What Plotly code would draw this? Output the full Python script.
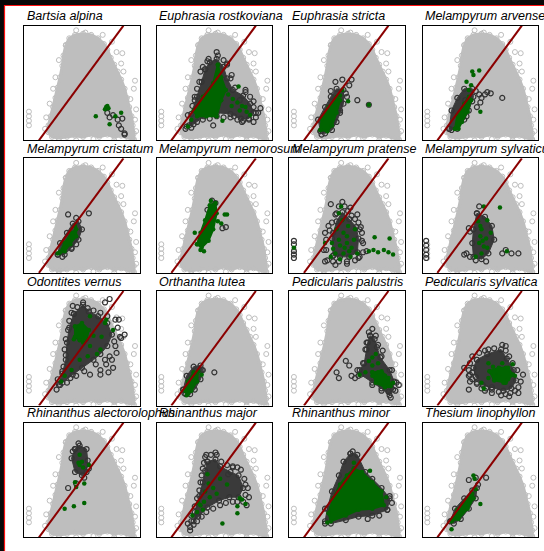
import plotly.graph_objects as go

W, H = 544, 551

SPECIES = [
    "Bartsia alpina", "Euphrasia rostkoviana", "Euphrasia stricta", "Melampyrum arvense",
    "Melampyrum cristatum", "Melampyrum nemorosum", "Melampyrum pratense", "Melampyrum sylvaticum",
    "Odontites vernus", "Orthantha lutea", "Pedicularis palustris", "Pedicularis sylvatica",
    "Rhinanthus alectorolophus", "Rhinanthus major", "Rhinanthus minor", "Thesium linophyllon",
]

# shared background: all plots (dense core outline + scattered edge points)
ALL_CORE = [
    (0.36, 0.83), (0.39, 0.89), (0.44, 0.92), (0.51, 0.93), (0.58, 0.92), (0.64, 0.89), (0.69, 0.84),
    (0.72, 0.79), (0.75, 0.72), (0.78, 0.66), (0.81, 0.60), (0.84, 0.53), (0.87, 0.45), (0.89, 0.37),
    (0.91, 0.29), (0.93, 0.21), (0.94, 0.13), (0.95, 0.06), (0.95, 0.01), (0.90, 0.02), (0.84, 0.04),
    (0.78, 0.03), (0.72, 0.05), (0.65, 0.03), (0.58, 0.05), (0.51, 0.03), (0.44, 0.04), (0.37, 0.03),
    (0.30, 0.02), (0.24, 0.03), (0.21, 0.07), (0.21, 0.13), (0.23, 0.21), (0.25, 0.29), (0.27, 0.37),
    (0.29, 0.46), (0.31, 0.55), (0.33, 0.65), (0.34, 0.74),
]
ALL_EDGE = [
    (0.45, 0.96), (0.53, 0.94), (0.68, 0.92), (0.76, 0.86), (0.80, 0.77), (0.85, 0.76), (0.84, 0.67),
    (0.86, 0.60), (0.96, 0.52), (0.95, 0.45), (0.92, 0.36), (0.97, 0.27), (0.96, 0.18), (0.97, 0.08),
    (0.04, 0.13), (0.04, 0.17), (0.04, 0.21), (0.04, 0.25), (0.30, 0.70), (0.27, 0.55), (0.25, 0.45),
    (0.22, 0.32), (0.19, 0.20), (0.18, 0.10), (0.30, 0.01), (0.45, 0.00), (0.60, 0.01), (0.78, 0.00),
    (0.95, 0.00),
]

# reference 1:1 line
REF_X = [0.127, 0.860]
REF_Y = [0.0, 1.0]

# occupied space (dark open circles): dense core outline and scattered points
DARK_CORE = {
    "Euphrasia rostkoviana": [(0.42, 0.62), (0.46, 0.68), (0.52, 0.71), (0.58, 0.64), (0.61, 0.54), (0.66, 0.44), (0.75, 0.39), (0.81, 0.32), (0.84, 0.24), (0.80, 0.19), (0.73, 0.19), (0.64, 0.23), (0.52, 0.24), (0.41, 0.21), (0.32, 0.14), (0.28, 0.13), (0.30, 0.23), (0.35, 0.38), (0.39, 0.51)],
    "Euphrasia stricta": [(0.27, 0.08), (0.25, 0.18), (0.31, 0.29), (0.36, 0.38), (0.41, 0.45), (0.47, 0.44), (0.47, 0.32), (0.44, 0.24), (0.41, 0.16), (0.37, 0.09), (0.31, 0.06)],
    "Melampyrum arvense": [(0.23, 0.10), (0.25, 0.26), (0.30, 0.37), (0.36, 0.45), (0.43, 0.45), (0.44, 0.38), (0.40, 0.26), (0.36, 0.18), (0.30, 0.10), (0.25, 0.09)],
    "Melampyrum cristatum": [(0.29, 0.16), (0.31, 0.26), (0.37, 0.35), (0.42, 0.43), (0.47, 0.45), (0.50, 0.38), (0.47, 0.29), (0.41, 0.22), (0.35, 0.16)],
    "Melampyrum pratense": [(0.38, 0.15), (0.37, 0.30), (0.41, 0.45), (0.46, 0.53), (0.52, 0.47), (0.58, 0.40), (0.60, 0.30), (0.59, 0.18), (0.52, 0.14), (0.44, 0.14)],
    "Melampyrum sylvaticum": [(0.47, 0.52), (0.54, 0.49), (0.60, 0.41), (0.62, 0.29), (0.57, 0.17), (0.51, 0.12), (0.44, 0.14), (0.43, 0.26), (0.44, 0.38)],
    "Odontites vernus": [(0.43, 0.80), (0.51, 0.88), (0.56, 0.82), (0.64, 0.78), (0.72, 0.72), (0.76, 0.62), (0.72, 0.52), (0.66, 0.45), (0.60, 0.40), (0.50, 0.33), (0.42, 0.27), (0.33, 0.20), (0.30, 0.18), (0.33, 0.28), (0.36, 0.40), (0.37, 0.55), (0.39, 0.68)],
    "Orthantha lutea": [(0.23, 0.14), (0.26, 0.26), (0.32, 0.34), (0.38, 0.35), (0.40, 0.31), (0.38, 0.23), (0.33, 0.14), (0.29, 0.10), (0.25, 0.10)],
    "Pedicularis palustris": [(0.70, 0.61), (0.74, 0.58), (0.76, 0.51), (0.79, 0.42), (0.87, 0.31), (0.91, 0.21), (0.90, 0.14), (0.87, 0.09), (0.80, 0.15), (0.72, 0.20), (0.62, 0.27), (0.61, 0.31), (0.65, 0.37), (0.67, 0.49), (0.68, 0.55)],
    "Pedicularis sylvatica": [(0.47, 0.40), (0.56, 0.45), (0.68, 0.49), (0.73, 0.41), (0.79, 0.31), (0.81, 0.22), (0.77, 0.15), (0.70, 0.13), (0.60, 0.16), (0.52, 0.18), (0.46, 0.25), (0.44, 0.33)],
    "Rhinanthus alectorolophus": [(0.44, 0.77), (0.48, 0.80), (0.54, 0.77), (0.55, 0.67), (0.54, 0.57), (0.50, 0.54), (0.44, 0.57), (0.41, 0.69)],
    "Rhinanthus major": [(0.44, 0.66), (0.51, 0.68), (0.55, 0.62), (0.64, 0.57), (0.71, 0.54), (0.75, 0.43), (0.71, 0.35), (0.63, 0.35), (0.54, 0.32), (0.44, 0.26), (0.36, 0.18), (0.32, 0.14), (0.33, 0.22), (0.37, 0.36), (0.40, 0.48), (0.42, 0.58)],
    "Rhinanthus minor": [(0.53, 0.73), (0.59, 0.72), (0.66, 0.57), (0.72, 0.51), (0.80, 0.43), (0.87, 0.34), (0.85, 0.24), (0.72, 0.19), (0.60, 0.18), (0.49, 0.15), (0.36, 0.12), (0.31, 0.14), (0.33, 0.25), (0.37, 0.40), (0.43, 0.54), (0.47, 0.66)],
    "Thesium linophyllon": [(0.24, 0.14), (0.28, 0.25), (0.36, 0.34), (0.43, 0.41), (0.47, 0.43), (0.46, 0.34), (0.40, 0.25), (0.33, 0.16), (0.27, 0.12)],
}
DARK_PTS = {
    "Bartsia alpina": [(0.72, 0.24), (0.77, 0.22), (0.81, 0.18), (0.85, 0.19), (0.82, 0.13), (0.84, 0.10), (0.87, 0.06), (0.87, 0.05), (0.74, 0.20)],
    "Euphrasia rostkoviana": [(0.40, 0.64), (0.45, 0.71), (0.53, 0.74), (0.61, 0.66), (0.64, 0.54), (0.68, 0.46), (0.77, 0.42), (0.84, 0.34), (0.88, 0.24), (0.84, 0.16), (0.74, 0.16), (0.64, 0.20), (0.52, 0.21), (0.40, 0.18), (0.30, 0.11), (0.25, 0.10), (0.27, 0.22), (0.33, 0.38), (0.37, 0.51), (0.44, 0.69), (0.52, 0.77), (0.77, 0.44), (0.86, 0.24), (0.80, 0.18), (0.75, 0.17), (0.67, 0.21), (0.49, 0.13), (0.35, 0.16), (0.26, 0.12), (0.33, 0.35), (0.38, 0.60), (0.61, 0.67), (0.65, 0.57), (0.84, 0.29), (0.72, 0.35), (0.90, 0.28), (0.86, 0.20), (0.58, 0.70), (0.81, 0.38), (0.70, 0.18), (0.58, 0.20), (0.46, 0.19), (0.31, 0.30), (0.35, 0.45)],
    "Euphrasia stricta": [(0.46, 0.53), (0.54, 0.53), (0.52, 0.48), (0.59, 0.35), (0.69, 0.31), (0.50, 0.38), (0.36, 0.43), (0.40, 0.51), (0.44, 0.26), (0.28, 0.05), (0.49, 0.41)],
    "Melampyrum arvense": [(0.49, 0.40), (0.51, 0.37), (0.54, 0.40), (0.59, 0.41), (0.50, 0.33), (0.47, 0.29), (0.69, 0.37), (0.38, 0.21), (0.43, 0.34), (0.37, 0.35), (0.46, 0.43), (0.56, 0.42)],
    "Melampyrum cristatum": [(0.38, 0.51), (0.45, 0.48), (0.56, 0.52), (0.41, 0.21), (0.45, 0.25), (0.33, 0.14)],
    "Melampyrum nemorosum": [(0.48, 0.63), (0.51, 0.61), (0.57, 0.39), (0.60, 0.40), (0.44, 0.55)],
    "Melampyrum pratense": [(0.33, 0.11), (0.32, 0.20), (0.32, 0.29), (0.35, 0.37), (0.37, 0.44), (0.40, 0.51), (0.43, 0.58), (0.48, 0.58), (0.51, 0.54), (0.54, 0.50), (0.57, 0.47), (0.60, 0.44), (0.62, 0.40), (0.63, 0.35), (0.64, 0.26), (0.64, 0.18), (0.61, 0.14), (0.57, 0.11), (0.50, 0.10), (0.43, 0.10), (0.38, 0.10), (0.46, 0.62), (0.53, 0.57), (0.59, 0.51), (0.61, 0.38), (0.63, 0.28), (0.67, 0.19), (0.60, 0.13), (0.31, 0.10), (0.30, 0.20), (0.31, 0.35), (0.34, 0.41), (0.41, 0.52), (0.38, 0.35), (0.04, 0.28), (0.04, 0.25), (0.04, 0.19), (0.04, 0.16), (0.04, 0.13), (0.36, 0.60), (0.50, 0.08), (0.40, 0.07)],
    "Melampyrum sylvaticum": [(0.40, 0.39), (0.41, 0.36), (0.49, 0.58), (0.38, 0.17), (0.41, 0.14), (0.36, 0.16), (0.69, 0.17), (0.77, 0.17), (0.83, 0.17), (0.72, 0.20), (0.46, 0.11), (0.03, 0.28), (0.03, 0.24), (0.03, 0.20), (0.03, 0.16), (0.03, 0.13), (0.55, 0.10)],
    "Odontites vernus": [(0.41, 0.81), (0.51, 0.90), (0.55, 0.85), (0.66, 0.81), (0.79, 0.75), (0.83, 0.60), (0.79, 0.52), (0.74, 0.43), (0.77, 0.33), (0.73, 0.29), (0.66, 0.31), (0.57, 0.27), (0.45, 0.26), (0.37, 0.20), (0.28, 0.14), (0.29, 0.23), (0.34, 0.34), (0.35, 0.49), (0.38, 0.66), (0.72, 0.78), (0.81, 0.68), (0.78, 0.56), (0.70, 0.40), (0.62, 0.36), (0.52, 0.30), (0.40, 0.24), (0.33, 0.30), (0.36, 0.44), (0.36, 0.58), (0.39, 0.74), (0.46, 0.86), (0.60, 0.83), (0.74, 0.93), (0.70, 0.90), (0.82, 0.75), (0.84, 0.59), (0.66, 0.27), (0.80, 0.46), (0.76, 0.40), (0.31, 0.18), (0.42, 0.87), (0.87, 0.62), (0.71, 0.36)],
    "Orthantha lutea": [(0.50, 0.29), (0.39, 0.31), (0.24, 0.11)],
    "Pedicularis palustris": [(0.69, 0.64), (0.75, 0.61), (0.77, 0.53), (0.80, 0.43), (0.89, 0.31), (0.93, 0.20), (0.92, 0.13), (0.88, 0.07), (0.80, 0.13), (0.72, 0.18), (0.60, 0.26), (0.59, 0.31), (0.64, 0.37), (0.66, 0.49), (0.67, 0.55), (0.49, 0.39), (0.52, 0.35), (0.41, 0.29), (0.43, 0.24), (0.54, 0.26), (0.57, 0.24), (0.86, 0.12), (0.72, 0.67), (0.81, 0.48), (0.95, 0.18)],
    "Pedicularis sylvatica": [(0.43, 0.43), (0.49, 0.46), (0.54, 0.48), (0.62, 0.50), (0.69, 0.53), (0.72, 0.48), (0.75, 0.43), (0.78, 0.37), (0.82, 0.31), (0.85, 0.21), (0.83, 0.16), (0.80, 0.13), (0.76, 0.11), (0.72, 0.10), (0.66, 0.12), (0.60, 0.14), (0.55, 0.15), (0.51, 0.15), (0.47, 0.19), (0.43, 0.23), (0.41, 0.27), (0.40, 0.31), (0.41, 0.37), (0.43, 0.29), (0.40, 0.26), (0.41, 0.21), (0.40, 0.14), (0.47, 0.20), (0.54, 0.13), (0.75, 0.08), (0.83, 0.11), (0.72, 0.52), (0.57, 0.49), (0.60, 0.11), (0.68, 0.09), (0.36, 0.33), (0.87, 0.27)],
    "Rhinanthus alectorolophus": [(0.38, 0.43), (0.45, 0.47), (0.47, 0.82), (0.42, 0.75), (0.56, 0.60), (0.52, 0.52)],
    "Rhinanthus major": [(0.42, 0.70), (0.47, 0.72), (0.52, 0.72), (0.56, 0.66), (0.61, 0.63), (0.66, 0.61), (0.73, 0.59), (0.76, 0.51), (0.79, 0.43), (0.77, 0.37), (0.75, 0.31), (0.70, 0.31), (0.66, 0.31), (0.60, 0.30), (0.55, 0.28), (0.49, 0.25), (0.43, 0.22), (0.39, 0.18), (0.35, 0.14), (0.32, 0.11), (0.29, 0.09), (0.30, 0.14), (0.30, 0.19), (0.33, 0.27), (0.35, 0.34), (0.37, 0.41), (0.38, 0.48), (0.39, 0.54), (0.40, 0.60), (0.41, 0.65), (0.43, 0.72), (0.51, 0.74), (0.66, 0.62), (0.70, 0.61), (0.77, 0.46), (0.80, 0.35), (0.29, 0.06), (0.27, 0.12), (0.62, 0.55), (0.78, 0.28)],
    "Rhinanthus minor": [(0.87, 0.36), (0.85, 0.24), (0.78, 0.19), (0.31, 0.12), (0.31, 0.25), (0.55, 0.75), (0.89, 0.30), (0.68, 0.16)],
    "Thesium linophyllon": [(0.55, 0.52), (0.46, 0.52), (0.40, 0.50), (0.48, 0.46)],
}

# occurrences (green dots): dense core outline and scattered points
GREEN_CORE = {
    "Euphrasia rostkoviana": [(0.53, 0.66), (0.56, 0.55), (0.60, 0.44), (0.56, 0.35), (0.52, 0.21), (0.35, 0.21), (0.32, 0.26), (0.40, 0.38), (0.49, 0.50)],
    "Euphrasia stricta": [(0.27, 0.09), (0.28, 0.19), (0.34, 0.29), (0.41, 0.38), (0.44, 0.35), (0.41, 0.24), (0.37, 0.13), (0.33, 0.08)],
    "Melampyrum arvense": [(0.28, 0.10), (0.30, 0.22), (0.36, 0.32), (0.40, 0.38), (0.42, 0.35), (0.39, 0.25), (0.34, 0.16), (0.31, 0.10)],
    "Melampyrum cristatum": [(0.31, 0.18), (0.35, 0.26), (0.41, 0.35), (0.45, 0.38), (0.45, 0.32), (0.40, 0.25), (0.35, 0.19)],
    "Melampyrum nemorosum": [(0.35, 0.25), (0.38, 0.35), (0.42, 0.46), (0.46, 0.59), (0.51, 0.61), (0.52, 0.52), (0.49, 0.38), (0.45, 0.28), (0.39, 0.22)],
    "Odontites vernus": [(0.44, 0.69), (0.50, 0.72), (0.56, 0.66), (0.54, 0.58), (0.48, 0.57), (0.44, 0.60)],
    "Orthantha lutea": [(0.25, 0.13), (0.27, 0.21), (0.32, 0.29), (0.36, 0.30), (0.35, 0.21), (0.30, 0.13), (0.27, 0.10)],
    "Pedicularis palustris": [(0.72, 0.29), (0.80, 0.30), (0.86, 0.24), (0.88, 0.17), (0.83, 0.16), (0.75, 0.20)],
    "Pedicularis sylvatica": [(0.58, 0.30), (0.66, 0.33), (0.74, 0.33), (0.78, 0.27), (0.72, 0.20), (0.62, 0.22)],
    "Rhinanthus minor": [(0.56, 0.60), (0.63, 0.57), (0.72, 0.48), (0.80, 0.40), (0.82, 0.28), (0.72, 0.25), (0.60, 0.24), (0.49, 0.19), (0.36, 0.14), (0.34, 0.21), (0.38, 0.34), (0.44, 0.46), (0.50, 0.54)],
    "Thesium linophyllon": [(0.25, 0.14), (0.30, 0.24), (0.37, 0.32), (0.43, 0.38), (0.44, 0.34), (0.39, 0.25), (0.31, 0.16)],
}
GREEN_PTS = {
    "Bartsia alpina": [(0.71, 0.29), (0.73, 0.28), (0.70, 0.27), (0.72, 0.30), (0.62, 0.21), (0.79, 0.21), (0.84, 0.24), (0.74, 0.14)],
    "Euphrasia rostkoviana": [(0.71, 0.47), (0.66, 0.36), (0.70, 0.33), (0.74, 0.30), (0.78, 0.25), (0.77, 0.29), (0.72, 0.26), (0.57, 0.17), (0.27, 0.12), (0.30, 0.18), (0.43, 0.21), (0.62, 0.40), (0.65, 0.30), (0.81, 0.22)],
    "Euphrasia stricta": [(0.51, 0.34), (0.69, 0.31), (0.44, 0.39), (0.46, 0.44)],
    "Melampyrum arvense": [(0.43, 0.60), (0.49, 0.61), (0.44, 0.57), (0.38, 0.51), (0.42, 0.48), (0.40, 0.44), (0.50, 0.25)],
    "Melampyrum cristatum": [(0.29, 0.17), (0.44, 0.41)],
    "Melampyrum nemorosum": [(0.59, 0.51), (0.61, 0.51), (0.56, 0.43), (0.38, 0.20), (0.41, 0.19), (0.33, 0.35), (0.47, 0.63), (0.53, 0.45)],
    "Melampyrum pratense": [(0.43, 0.52), (0.46, 0.46), (0.47, 0.35), (0.37, 0.26), (0.43, 0.29), (0.50, 0.26), (0.56, 0.29), (0.40, 0.17), (0.47, 0.17), (0.53, 0.14), (0.59, 0.17), (0.36, 0.14), (0.31, 0.26), (0.51, 0.41), (0.57, 0.38), (0.41, 0.38), (0.48, 0.22), (0.54, 0.22), (0.44, 0.12), (0.74, 0.31), (0.87, 0.30), (0.73, 0.20), (0.77, 0.18), (0.82, 0.20), (0.86, 0.18), (0.90, 0.16), (0.69, 0.19), (0.04, 0.22), (0.45, 0.58), (0.50, 0.32), (0.44, 0.24), (0.52, 0.19), (0.38, 0.21)],
    "Melampyrum sylvaticum": [(0.53, 0.58), (0.67, 0.57), (0.51, 0.38), (0.50, 0.32), (0.53, 0.23), (0.51, 0.17), (0.56, 0.22), (0.59, 0.35), (0.73, 0.19), (0.49, 0.26), (0.50, 0.41), (0.46, 0.14), (0.56, 0.46), (0.52, 0.28), (0.48, 0.45), (0.55, 0.30)],
    "Odontites vernus": [(0.57, 0.78), (0.53, 0.62), (0.51, 0.55), (0.57, 0.52), (0.60, 0.61), (0.70, 0.72), (0.77, 0.66), (0.66, 0.49), (0.63, 0.45), (0.55, 0.43), (0.48, 0.40), (0.41, 0.31), (0.32, 0.21), (0.35, 0.26), (0.71, 0.75), (0.43, 0.58), (0.67, 0.60)],
    "Orthantha lutea": [(0.39, 0.27), (0.26, 0.09)],
    "Pedicularis palustris": [(0.75, 0.45), (0.69, 0.39), (0.72, 0.35), (0.77, 0.37), (0.66, 0.29), (0.72, 0.26), (0.77, 0.29), (0.83, 0.26), (0.80, 0.20), (0.85, 0.21), (0.87, 0.18), (0.61, 0.27), (0.72, 0.42), (0.86, 0.17), (0.90, 0.20)],
    "Pedicularis sylvatica": [(0.51, 0.20), (0.53, 0.15), (0.57, 0.24), (0.62, 0.29), (0.66, 0.26), (0.72, 0.33), (0.78, 0.27), (0.69, 0.37), (0.61, 0.34), (0.80, 0.26), (0.70, 0.20), (0.78, 0.36), (0.57, 0.37), (0.74, 0.23)],
    "Rhinanthus alectorolophus": [(0.48, 0.63), (0.51, 0.61), (0.47, 0.65), (0.50, 0.66), (0.45, 0.44), (0.52, 0.47), (0.44, 0.48), (0.56, 0.63), (0.35, 0.25), (0.43, 0.27), (0.52, 0.30), (0.48, 0.72)],
    "Rhinanthus major": [(0.45, 0.47), (0.42, 0.40), (0.49, 0.43), (0.38, 0.28), (0.35, 0.22), (0.31, 0.19), (0.55, 0.51), (0.61, 0.46), (0.52, 0.38), (0.72, 0.34), (0.74, 0.33), (0.77, 0.29), (0.70, 0.27), (0.70, 0.21), (0.57, 0.12), (0.41, 0.31), (0.46, 0.35), (0.44, 0.55), (0.40, 0.24), (0.36, 0.30)],
    "Rhinanthus minor": [(0.70, 0.58), (0.33, 0.13), (0.56, 0.65), (0.84, 0.35)],
    "Thesium linophyllon": [(0.44, 0.54), (0.45, 0.51), (0.50, 0.29), (0.25, 0.07), (0.46, 0.42)],
}

# panel grid in pixels
COL_LEFT = [24.3, 156.7, 289.3, 422.7]
ROW_TOP = [25.7, 158.3, 291.0, 422.7]
PW, PH = 115.3, 114.6

GRAY = "#BEBEBE"
DARK = "#333333"
DARK_FILL = "#3A3A3A"
GREEN = "#006400"
RED = "#8B0000"


def xs(pts):
    return [p[0] for p in pts]


def ys(pts):
    return [p[1] for p in pts]


def closed(pts):
    return pts + pts[:1]


fig = go.Figure()
annotations = []

for i, name in enumerate(SPECIES):
    r, c = divmod(i, 4)
    k = "" if i == 0 else str(i + 1)
    xa, ya = "x" + k, "y" + k
    x0, y0 = COL_LEFT[c], ROW_TOP[r]
    fig.layout["xaxis" + k] = dict(
        domain=[x0 / W, (x0 + PW) / W], range=[0, 1], anchor=ya,
        showgrid=False, zeroline=False, showticklabels=False, ticks="",
        showline=True, mirror=True, linecolor="black", linewidth=1,
    )
    fig.layout["yaxis" + k] = dict(
        domain=[1 - (y0 + PH) / H, 1 - y0 / H], range=[0, 1], anchor=xa,
        showgrid=False, zeroline=False, showticklabels=False, ticks="",
        showline=True, mirror=True, linecolor="black", linewidth=1,
    )

    common = dict(xaxis=xa, yaxis=ya, showlegend=False, hoverinfo="skip")

    # background cloud
    fig.add_trace(go.Scatter(x=xs(closed(ALL_CORE)), y=ys(closed(ALL_CORE)), mode="lines+markers",
                             fill="toself", fillcolor=GRAY, line=dict(color=GRAY, width=3),
                             marker=dict(symbol="circle-open", size=5, color=GRAY, line=dict(width=1)),
                             **common))
    fig.add_trace(go.Scatter(x=xs(ALL_EDGE), y=ys(ALL_EDGE), mode="markers",
                             marker=dict(symbol="circle-open", size=5, color=GRAY, line=dict(width=1)),
                             **common))

    # occupied space
    if name in DARK_CORE:
        pts = closed(DARK_CORE[name])
        fig.add_trace(go.Scatter(x=xs(pts), y=ys(pts), mode="lines+markers", fill="toself",
                                 fillcolor=DARK_FILL, line=dict(color=DARK_FILL, width=1),
                                 marker=dict(symbol="circle-open", size=5, color=DARK, line=dict(width=1.2)),
                                 **common))
    if name in DARK_PTS:
        pts = DARK_PTS[name]
        fig.add_trace(go.Scatter(x=xs(pts), y=ys(pts), mode="markers",
                                 marker=dict(symbol="circle-open", size=5, color=DARK, line=dict(width=1.2)),
                                 **common))

    # occurrences
    if name in GREEN_CORE:
        pts = closed(GREEN_CORE[name])
        fig.add_trace(go.Scatter(x=xs(pts), y=ys(pts), mode="lines+markers", fill="toself",
                                 fillcolor=GREEN, line=dict(color=GREEN, width=2),
                                 marker=dict(symbol="circle", size=4.5, color=GREEN),
                                 **common))
    if name in GREEN_PTS:
        pts = GREEN_PTS[name]
        fig.add_trace(go.Scatter(x=xs(pts), y=ys(pts), mode="markers",
                                 marker=dict(symbol="circle", size=4.5, color=GREEN),
                                 **common))

    # 1:1 line
    fig.add_trace(go.Scatter(x=REF_X, y=REF_Y, mode="lines", line=dict(color=RED, width=2), **common))

    annotations.append(dict(
        text="<i>" + name + "</i>", xref="paper", yref="paper",
        x=(x0 + 0.5) / W, y=1 - (y0 - 0.5) / H, xanchor="left", yanchor="bottom",
        showarrow=False, font=dict(family="Liberation Sans, Arial, sans-serif", size=12.5, color="black"),
    ))

shapes = [
    # dark surround with red-edged white sheet
    dict(type="rect", xref="paper", yref="paper", x0=-0.05, x1=1.05, y0=-0.05, y1=1.05,
         fillcolor="#080808", line=dict(width=0), layer="below"),
    dict(type="rect", xref="paper", yref="paper", x0=4.5 / W, x1=1.1, y0=-0.1, y1=1 - 5.5 / H,
         fillcolor="white", line=dict(color="#FF1010", width=1.2), layer="below"),
]

fig.update_layout(
    width=W, height=H, margin=dict(l=0, r=0, t=0, b=0),
    paper_bgcolor="#080808", plot_bgcolor="white",
    annotations=annotations, shapes=shapes,
)

fig.write_html("out.html")
